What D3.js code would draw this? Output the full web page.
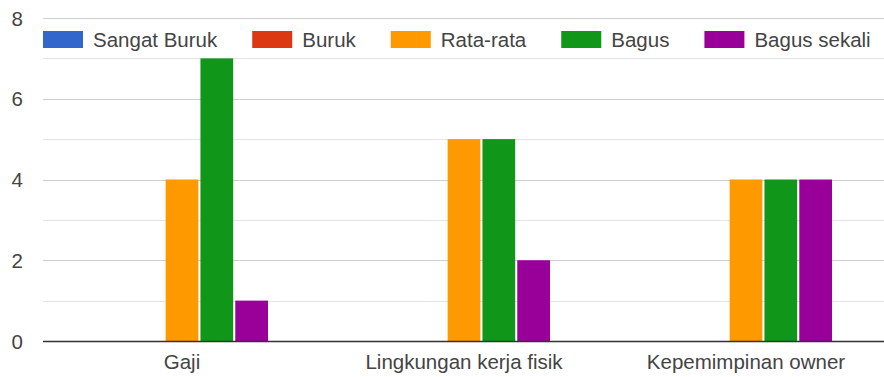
<!DOCTYPE html>
<html>
<head>
<meta charset="utf-8">
<script src="https://cdn.jsdelivr.net/npm/d3@7"></script>
<style>
  body { margin: 0; background: #fff; }
  text { font-family: Arial, "Liberation Sans", sans-serif; }
</style>
</head>
<body>
<div id="chart"></div>
<script>
// data
var categories = ["Gaji", "Lingkungan kerja fisik", "Kepemimpinan owner"];
var seriesNames = ["Sangat Buruk", "Buruk", "Rata-rata", "Bagus", "Bagus sekali"];
var sangatBuruk = [0, 0, 0];
var buruk = [0, 0, 0];
var rataRata = [4, 5, 4];
var bagus = [7, 5, 4];
var bagusSekali = [1, 2, 4];
var yTicks = [0, 2, 4, 6, 8];
var colors = ["#3366cc", "#dc3912", "#ff9900", "#109618", "#990099"];

var seriesValues = [sangatBuruk, buruk, rataRata, bagus, bagusSekali];

var width = 884, height = 377;
var plotLeft = 41, plotRight = 887, plotTop = 18, plotBottom = 341;
var fontSize = 20.5;

var svg = d3.select("#chart").append("svg")
	.attr("width", width)
	.attr("height", height);

var x = d3.scaleBand()
	.domain(categories)
	.range([plotLeft, plotRight]);

var groupWidth = 172;
var xSub = d3.scaleBand()
	.domain(seriesNames)
	.range([-groupWidth / 2, groupWidth / 2])
	.paddingInner(0.06);

var y = d3.scaleLinear()
	.domain([0, 8])
	.range([plotBottom, plotTop]);

// gridlines (odd values lighter)
var grid = svg.append("g");
grid.selectAll("line")
	.data(d3.range(1, 9))
	.enter().append("line")
	.attr("x1", 43)
	.attr("x2", width)
	.attr("y1", function (d) { return Math.round(y(d)) + 0.5; })
	.attr("y2", function (d) { return Math.round(y(d)) + 0.5; })
	.attr("stroke", function (d) { return d % 2 == 0 ? "#cfcfcf" : "#e3e3e3"; })
	.attr("stroke-width", 1);

// y axis labels
var yAxis = d3.axisLeft(y)
	.tickValues(yTicks)
	.tickSize(0)
	.tickPadding(0)
	.tickFormat(d3.format("d"));
svg.append("g")
	.attr("transform", "translate(23,0)")
	.call(yAxis)
	.call(function (g) { g.select(".domain").remove(); })
	.selectAll("text")
	.attr("font-size", fontSize)
	.attr("font-family", "Arial, 'Liberation Sans', sans-serif")
	.attr("fill", "#444")
	.attr("dy", "0.35em");

// bars
var groups = svg.selectAll(".group")
	.data(categories)
	.enter().append("g")
	.attr("class", "group")
	.attr("transform", function (d) { return "translate(" + (x(d) + x.bandwidth() / 2) + ",0)"; });

groups.selectAll("rect")
	.data(function (d, i) {
		return seriesNames.map(function (s, j) { return { name: s, value: seriesValues[j][i], color: colors[j] }; });
	})
	.enter().append("rect")
	.attr("x", function (d) { return xSub(d.name); })
	.attr("width", xSub.bandwidth())
	.attr("y", function (d) { return y(d.value); })
	.attr("height", function (d) { return plotBottom - y(d.value); })
	.attr("fill", function (d) { return d.color; });

// baseline
svg.append("line")
	.attr("x1", 43)
	.attr("x2", width)
	.attr("y1", plotBottom + 0.5)
	.attr("y2", plotBottom + 0.5)
	.attr("stroke", "#333")
	.attr("stroke-width", 1.5);

// x axis labels
var xAxis = d3.axisBottom(x).tickSize(0).tickPadding(0);
svg.append("g")
	.attr("transform", "translate(0," + plotBottom + ")")
	.call(xAxis)
	.call(function (g) { g.select(".domain").remove(); })
	.selectAll("text")
	.attr("font-size", fontSize)
	.attr("font-family", "Arial, 'Liberation Sans', sans-serif")
	.attr("fill", "#444")
	.attr("y", 28)
	.attr("dy", 0);

// legend
var legend = svg.append("g");
var lx = 43;
seriesNames.forEach(function (name, i) {
	var item = legend.append("g").attr("transform", "translate(" + lx + ",0)");
	item.append("rect")
		.attr("x", 0)
		.attr("y", 31)
		.attr("width", 40)
		.attr("height", 17)
		.attr("fill", colors[i]);
	var t = item.append("text")
		.attr("x", 50)
		.attr("y", 47)
		.attr("font-size", fontSize)
		.attr("fill", "#444")
		.text(name);
	lx += 50 + t.node().getComputedTextLength() + 35;
});
</script>
</body>
</html>
